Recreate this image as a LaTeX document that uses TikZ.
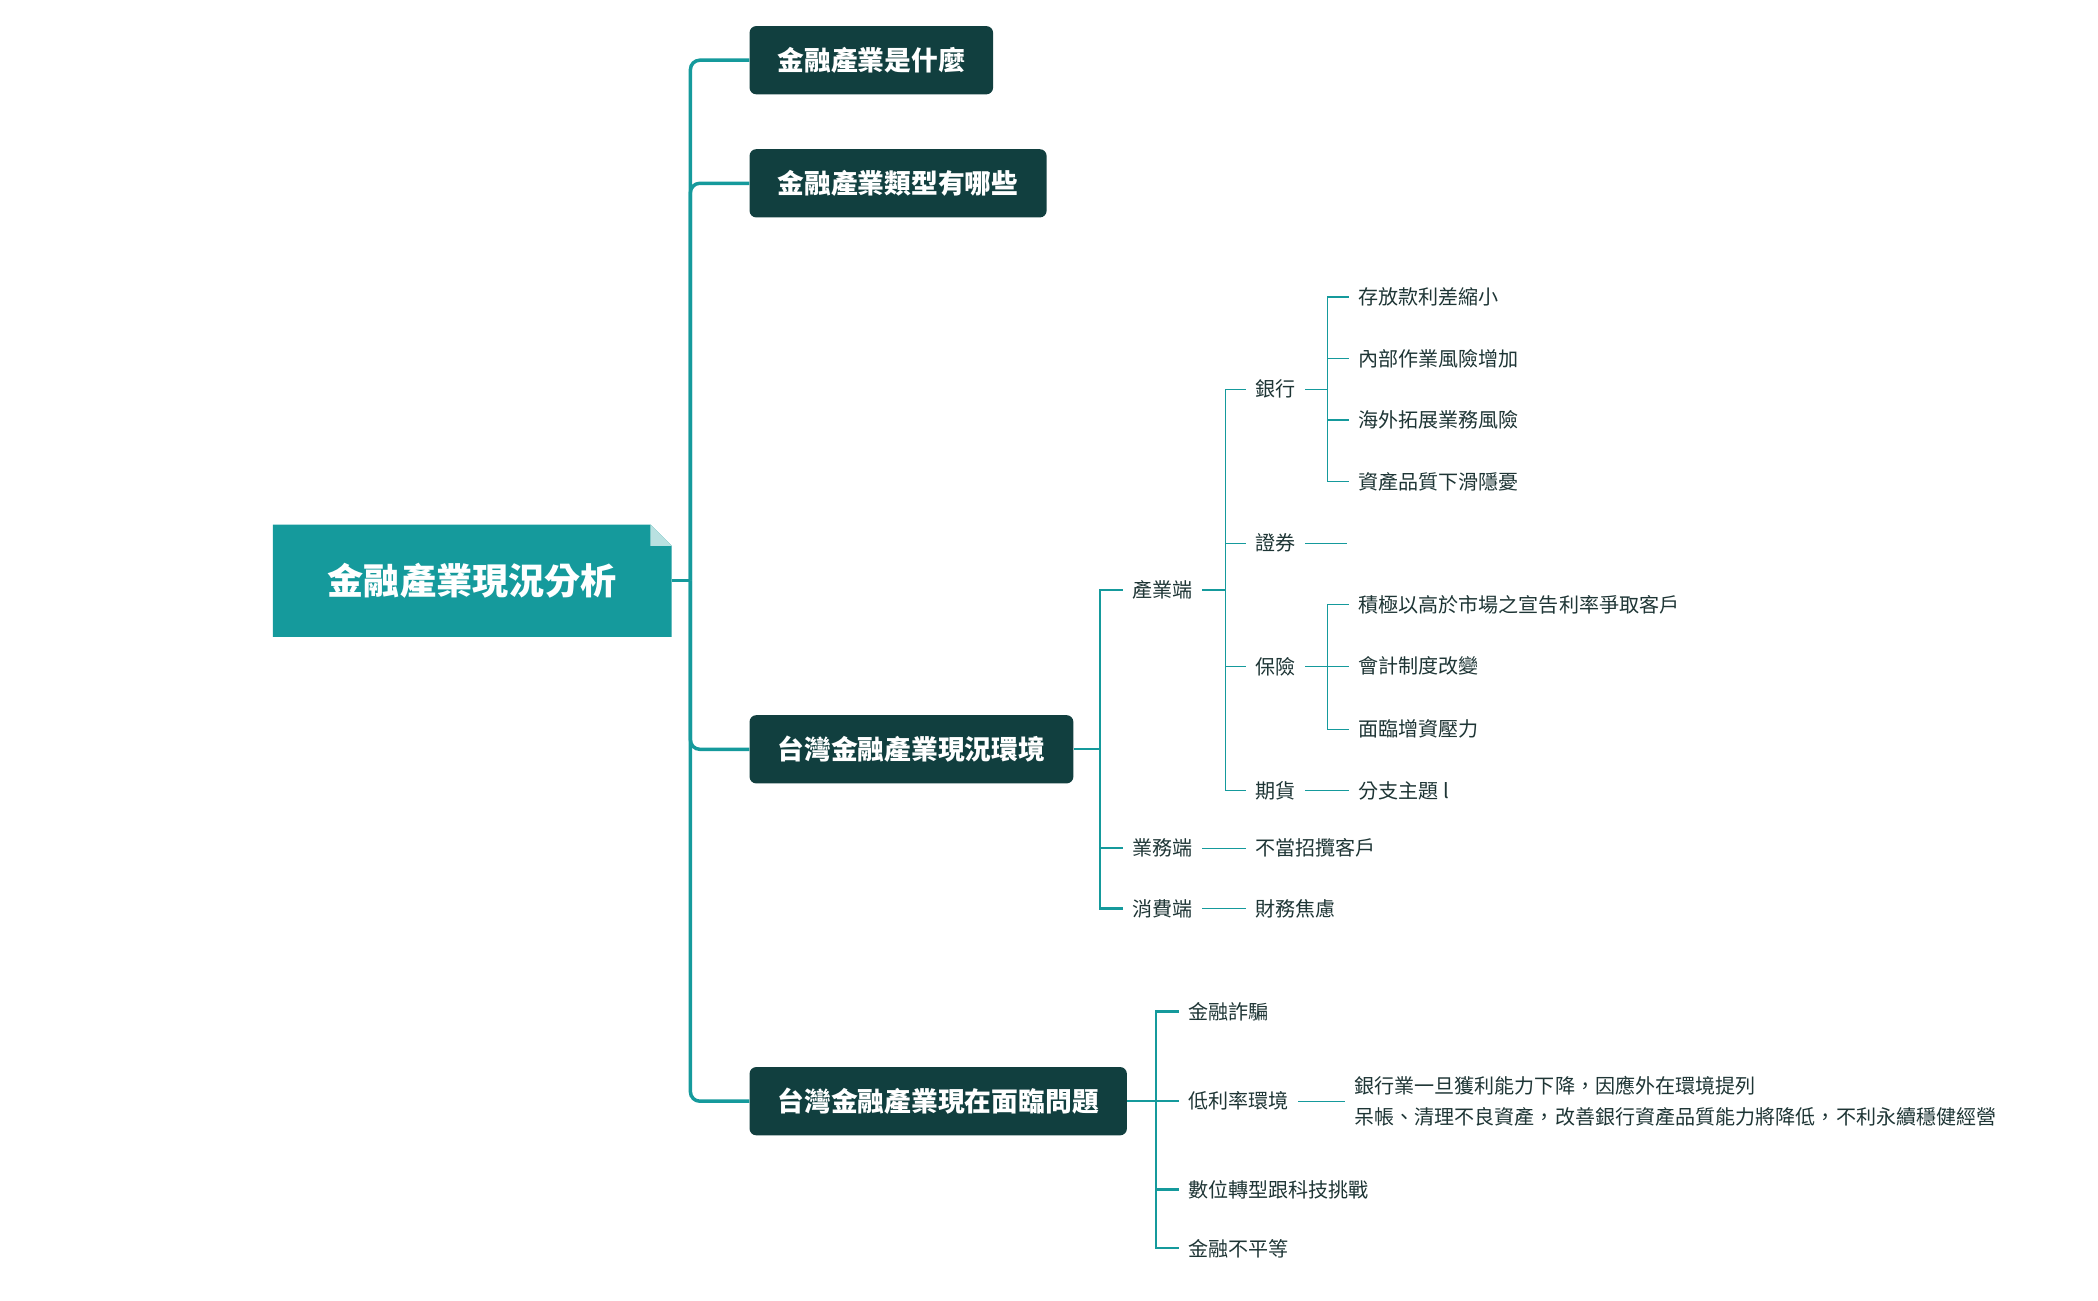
\documentclass[tikz,border=0pt]{standalone}
\usepackage{fontspec}
\setmainfont{Noto Sans CJK TC}
\definecolor{teal1}{HTML}{159A9C}
\definecolor{dark1}{HTML}{113F3F}
\definecolor{txt1}{HTML}{1E3535}
\begin{document}
\begin{tikzpicture}[x=1pt,y=-1pt,
  box/.style={fill=dark1,rounded corners=5pt,text=white,font=\fontsize{20}{24}\selectfont\bfseries,minimum height=51pt,inner xsep=21pt,anchor=west},
  lab/.style={text=txt1,font=\fontsize{15}{18}\selectfont,anchor=west,inner xsep=7pt,inner ysep=2pt},
  l1/.style={draw=teal1,line width=2.6pt,rounded corners=7pt},
  l2/.style={draw=teal1,line width=1.6pt},
  l3/.style={draw=teal1,line width=1pt}]
\useasboundingbox (0,0) rectangle (1568,972);
% root
\fill[teal1] (204,392) -- (486,392) -- (502,408) -- (502,476) -- (204,476) -- cycle;
\fill[white!70!teal1] (486,392) -- (502,408) -- (486,408) -- cycle;
\node[text=white,font=\fontsize{27}{32}\selectfont\bfseries] (root) at (353,434) {金融產業現況分析};
\coordinate (rootE) at (502,434);
\node[box] (b1) at (560,45) {金融產業是什麼};
\node[box] (b2) at (560,137) {金融產業類型有哪些};
\node[box] (b3) at (560,560) {台灣金融產業現況環境};
\node[box] (b4) at (560,823) {台灣金融產業現在面臨問題};
\draw[l1] (rootE) -- ++(14,0) coordinate (rj);
\foreach \b in {b1,b2,b3,b4} \draw[l1] (rj) |- (\b.west);
% b3 children
\node[lab] (c1) at (839,441) {產業端};
\node[lab] (c2) at (839,634) {業務端};
\node[lab] (c3) at (839,679) {消費端};
\draw[l2] (b3.east) -- (822,560) coordinate (j3);
\foreach \c in {c1,c2,c3} \draw[l2] (j3) |- (\c.west);
\node[lab] (d1) at (931,291) {銀行};
\node[lab] (d2) at (931,406) {證券};
\node[lab] (d3) at (931,498) {保險};
\node[lab] (d4) at (931,591) {期貨};
\draw[l3] (c1.east) -- (916,441) coordinate (jc1);
\foreach \d in {d1,d2,d3,d4} \draw[l3] (jc1) |- (\d.west);
\node[lab] (e1) at (1008,222) {存放款利差縮小};
\node[lab] (e2) at (1008,268) {內部作業風險增加};
\node[lab] (e3) at (1008,314) {海外拓展業務風險};
\node[lab] (e4) at (1008,360) {資產品質下滑隱憂};
\draw[l3] (d1.east) -- (992,291) coordinate (jd1);
\foreach \e in {e1,e2,e3,e4} \draw[l3] (jd1) |- (\e.west);
\coordinate (d2end) at (1007,406);
\draw[l3] (d2.east) -- (d2end);
\node[lab] (f1) at (1008,452) {積極以高於市場之宣告利率爭取客戶};
\node[lab] (f2) at (1008,498) {會計制度改變};
\node[lab] (f3) at (1008,545) {面臨增資壓力};
\draw[l3] (d3.east) -- (992,498) coordinate (jd3);
\foreach \f in {f1,f2,f3} \draw[l3] (jd3) |- (\f.west);
\node[lab] (g1) at (1008,591) {分支主題 l};
\draw[l3] (d4.east) -- (g1.west);
\node[lab] (h1) at (931,634) {不當招攬客戶};
\draw[l3] (c2.east) -- (h1.west);
\node[lab] (h2) at (931,679) {財務焦慮};
\draw[l3] (c3.east) -- (h2.west);
% b4 children
\node[lab] (k1) at (881,756) {金融詐騙};
\node[lab] (k2) at (881,823) {低利率環境};
\node[lab] (k3) at (881,889) {數位轉型跟科技挑戰};
\node[lab] (k4) at (881,933) {金融不平等};
\draw[l2] (b4.east) -- (864,823) coordinate (j4);
\foreach \k in {k1,k2,k3,k4} \draw[l2] (j4) |- (\k.west);
\node[lab,text width=345pt,align=left,font=\fontsize{15}{23}\selectfont] (m1) at (1005,823) {銀行業一旦獲利能力下降，因應外在環境提列 呆帳、清理不良資產，改善銀行資產品質能力將降低，不利永續穩健經營};
\draw[l3] (k2.east) -- (m1.west);
\end{tikzpicture}
\end{document}
